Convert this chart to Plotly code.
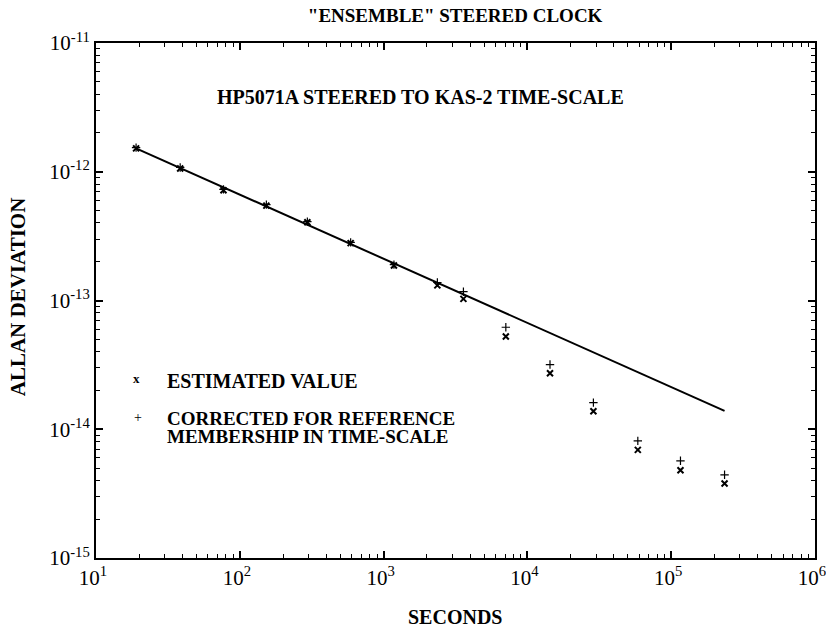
import plotly.graph_objects as go

# Averaging times (seconds)
tau = [19, 38.5, 77, 153, 295, 590, 1180, 2365, 3590, 7080, 14360, 28770, 58600, 116000, 235000]
# Estimated Allan deviation (x markers)
adev_est = [1.52e-12, 1.06e-12, 7.18e-13, 5.46e-13, 4.05e-13, 2.79e-13, 1.87e-13,
            1.31e-13, 1.03e-13, 5.25e-14, 2.72e-14, 1.38e-14, 6.92e-15, 4.81e-15, 3.79e-15]
# Corrected for reference membership (+ markers)
adev_corr = [1.54e-12, 1.08e-12, 7.3e-13, 5.55e-13, 4.1e-13, 2.83e-13, 1.9e-13,
             1.38e-13, 1.17e-13, 6.2e-14, 3.18e-14, 1.61e-14, 8.13e-15, 5.69e-15, 4.43e-15]
# Reference line (tau^-1/2)
line_tau = [19, 235000]
line_adev = [1.52e-12, 1.39e-14]

x_tickvals = [10, 100, 1000, 10000, 100000, 1000000]
x_ticktext = ["10<sup>1</sup>", "10<sup>2</sup>", "10<sup>3</sup>", "10<sup>4</sup>", "10<sup>5</sup>", "10<sup>6</sup>"]
y_tickvals = [1e-15, 1e-14, 1e-13, 1e-12, 1e-11]
y_ticktext = ["10<sup>-15</sup>", "10<sup>-14</sup>", "10<sup>-13</sup>", "10<sup>-12</sup>", "10<sup>-11</sup>"]
x_minor = [m * 10 ** e for e in range(1, 6) for m in range(2, 10)]
y_minor = [m * 10.0 ** e for e in range(-15, -11) for m in range(2, 10)]

SERIF = "Liberation Serif"

fig = go.Figure()
fig.add_trace(go.Scatter(x=line_tau, y=line_adev, mode="lines",
                         line=dict(color="black", width=2), showlegend=False))
fig.add_trace(go.Scatter(x=tau, y=adev_est, mode="markers",
                         marker=dict(symbol="x-thin-open", size=6, color="black",
                                     line=dict(color="black", width=2)),
                         showlegend=False))
fig.add_trace(go.Scatter(x=tau, y=adev_corr, mode="markers",
                         marker=dict(symbol="cross-thin-open", size=6, color="black",
                                     line=dict(color="black", width=1.2)),
                         showlegend=False))

def ann(x, y, text, size=20, xanchor="center", angle=0):
    fig.add_annotation(x=x, y=y, xref="paper", yref="paper", text=text, xanchor=xanchor,
                       yanchor="middle", showarrow=False, borderpad=0, textangle=angle,
                       font=dict(family=SERIF, size=size, color="black"))

ann(0.057, 0.348, "<b>x</b>", size=13)
ann(0.058, 0.272, "+", size=14)
ann(0.097, 0.344, "<b>ESTIMATED VALUE</b>", xanchor="left")
ann(0.097, 0.271, "<b>CORRECTED FOR REFERENCE</b>", xanchor="left", size=19)
ann(0.097, 0.236, "<b>MEMBERSHIP IN TIME-SCALE</b>", xanchor="left", size=19)
ann(0.452, 0.895, "<b>HP5071A STEERED TO KAS-2 TIME-SCALE</b>")
# Axis titles
ann(-0.108, 0.507, "<b>ALLAN DEVIATION</b>", size=21, angle=-90)
ann(0.499, -0.1146, "<b>SECONDS</b>", size=20)

axis_common = dict(
    showgrid=False, zeroline=False, showline=True, linecolor="black", linewidth=2,
    mirror="allticks", ticks="inside", ticklen=7, tickwidth=1.5, tickcolor="black",
    automargin=False, ticklabeloverflow="allow",
    tickfont=dict(family=SERIF, size=21, color="black"),
)

fig.update_layout(
    width=826, height=631,
    margin=dict(l=96, r=11, t=43, b=73),
    paper_bgcolor="white", plot_bgcolor="white",
    title=dict(text='<b>"ENSEMBLE" STEERED CLOCK</b>', x=0.551, xanchor="center",
               y=0.976, yanchor="middle",
               font=dict(family=SERIF, size=19, color="black")),
    xaxis=dict(type="log", range=[1, 6], tickvals=x_tickvals, ticktext=x_ticktext,
               ticklabelshift=-3,
               minor=dict(tickvals=x_minor, ticks="inside", ticklen=4, tickwidth=1,
                          tickcolor="black", showgrid=False),
               **axis_common),
    yaxis=dict(type="log", range=[-15, -11], tickvals=y_tickvals, ticktext=y_ticktext,
               minor=dict(tickvals=y_minor, ticks="inside", ticklen=4, tickwidth=1,
                          tickcolor="black", showgrid=False),
               **axis_common),
    showlegend=False,
)

fig.write_html("out.html", config={"displayModeBar": False},
               post_script="document.body.style.margin='0';")
